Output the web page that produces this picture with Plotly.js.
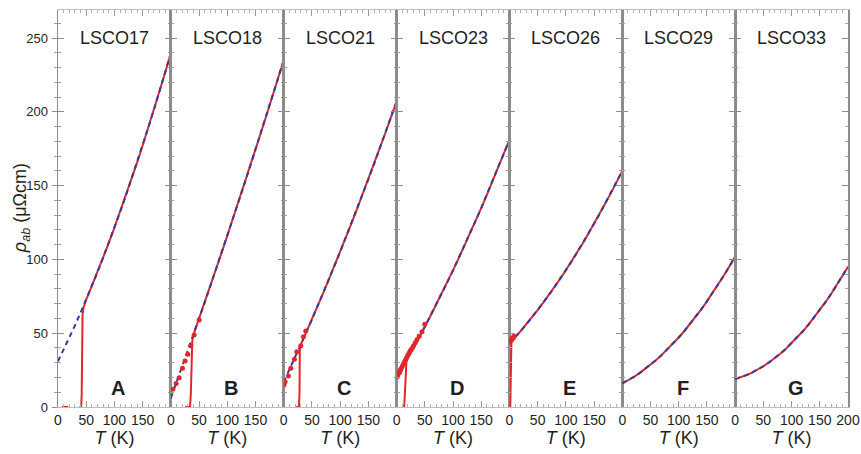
<!DOCTYPE html>
<html><head><meta charset="utf-8">
<script src="https://cdn.plot.ly/plotly-3.0.1.min.js"></script>
<style>html,body{margin:0;padding:0;background:#fff}</style>
</head><body><div id="chart" style="width:861px;height:454px"></div>
<script>
// Temperature grid (K)
const T = [0,10,20,30,40,50,60,70,80,90,100,110,120,130,140,150,160,170,180,190,200];
// Fits (blue dashed), µΩcm
const fitA = [31,38.8,46.9,55.2,63.9,72.8,82.0,91.4,101.2,111.2,121.5,132.1,142.9,154.1,165.4,177.2,189.2,201.4,213.9,226.7,239.8];
const fitB = [6,16.6,27.3,38.0,48.9,59.8,70.9,82.0,93.2,104.6,116.0,127.5,139.1,150.7,162.5,174.4,186.3,198.4,210.5,222.7,235.0];
const fitC = [17,25.2,33.5,42.0,50.6,59.3,68.2,77.2,86.4,95.7,105.1,114.7,124.4,134.2,144.2,154.3,164.6,175.0,185.5,196.2,207.0];
const fitD = [20,26.6,33.3,40.1,47.2,54.3,61.7,69.2,76.8,84.6,92.6,100.7,109.0,117.5,126.1,134.8,143.8,152.8,162.1,171.5,181.0];
const fitE = [43,47.2,51.5,56.0,60.8,65.6,70.7,75.9,81.3,86.9,92.7,98.6,104.7,111.0,117.5,124.1,131.0,138.0,145.1,152.5,160.0];
const fitF = [16,18.0,20.3,22.8,25.6,28.6,31.8,35.3,39.0,42.9,47.1,51.5,56.2,61.1,66.2,71.6,77.2,83.0,89.1,95.4,102.0];
const fitG = [19,20.2,21.6,23.3,25.3,27.6,30.2,33.0,36.1,39.5,43.2,47.1,51.3,55.8,60.6,65.6,71.0,76.6,82.5,88.6,95.0];

// Low-temperature parts of the measured (red) curves, below 50 K
const lowA_T = [7,18,null,38,41,42,42.5,43.5,45];
const lowA_R = [0,0,null,0,0,8,45,62,67];
const lowB_T = [25,34,35.5,36.5,38,40];
const lowB_R = [0,0,10,38,45,48.9];
const lowC_T = [22,27,28,28.5,30,40];
const lowC_R = [0,0,10,38,42,50.6];
const lowD_T = [12,13.5,15.5,17.5,20,30,40];
const lowD_R = [0,0,15,31,33.3,40.1,47.2];
const lowE_T = [1.5,2,2.5,3.5,5,10,20,30,40];
const lowE_R = [0,15,35,44,45.5,47.2,51.5,56.0,60.8];

// High-field points (red dots)
const dotsB_T = [3.5,9.4,14.7,20.6,25.3,30.1,35.4,41.3,50.1];
const dotsB_R = [12,16,19.9,26.2,31.2,35.7,41.5,48.8,59];
const dotsC_T = [0.5,2.5,8.3,12.6,18.9,23.2,30.3,34.9,39.1];
const dotsC_R = [15,17.1,21,26.2,32.3,37.5,41.5,47.6,51.5];
const dotsD_T = [0.5,1,1.5,2,3,4,5,6,7,8,10,12,14,16,18,20,22,24,26,28,30,33,36,40,45,50];
const dotsD_R = [20.5,21,20.5,22,22.5,23,23.5,24.5,25,26,27.5,29,30.5,32,33.5,35,36.5,38,39,40,41.5,43.5,45.5,48,51,56];
const dotsE_T = [1,2,3,4,5,6,7,8];
const dotsE_R = [44,45,46,45.5,46.5,47,47,48];

const samples = ['LSCO17','LSCO18','LSCO21','LSCO23','LSCO26','LSCO29','LSCO33'];
const letters = ['A','B','C','D','E','F','G'];
const xTicksInner = [0,50,100,150];
const xTicksLast = [0,50,100,150,200];

const fits = [fitA,fitB,fitC,fitD,fitE,fitF,fitG];
const lows = [[lowA_T,lowA_R],[lowB_T,lowB_R],[lowC_T,lowC_R],[lowD_T,lowD_R],[lowE_T,lowE_R],[[],[]],[[],[]]];
const dots = [null,[dotsB_T,dotsB_R],[dotsC_T,dotsC_R],[dotsD_T,dotsD_R],[dotsE_T,dotsE_R],null,null];

const RED = '#e3262b', BLUE = '#2f3f9a';
const FONT = 'Liberation Sans, Arial, sans-serif';
const traces = [];
const layout = {
  width: 861, height: 454,
  margin: {l: 58, r: 13, t: 10, b: 47},
  paper_bgcolor: '#fff', plot_bgcolor: '#fff',
  showlegend: false,
  font: {family: FONT, color: '#231f20'},
  annotations: []
};
const n = 7;
for (let i = 0; i < n; i++) {
  const s = i === 0 ? '' : String(i + 1);
  const xa = 'x' + s, ya = 'y' + s;
  const fit = fits[i];
  let rx, ry;
  if (lows[i][0].length) {
    const start = T.indexOf(50);
    rx = lows[i][0].concat(T.slice(start));
    ry = lows[i][1].concat(fit.slice(start));
  } else { rx = T.slice(); ry = fit.slice(); }
  traces.push({x: rx, y: ry, xaxis: xa, yaxis: ya, mode: 'lines', connectgaps: false,
    line: {color: RED, width: 2}, hoverinfo: 'skip'});
  traces.push({x: T, y: fit, xaxis: xa, yaxis: ya, mode: 'lines',
    line: {color: BLUE, width: 2, dash: '5px,4px'}, hoverinfo: 'skip'});
  if (dots[i]) {
    traces.push({x: dots[i][0], y: dots[i][1], xaxis: xa, yaxis: ya, mode: 'markers',
      marker: {color: RED, size: 5, symbol: 'circle'}, hoverinfo: 'skip'});
  }
  layout['xaxis' + s] = {
    domain: [i / n, (i + 1) / n], range: [0, 200], anchor: ya,
    tickmode: 'array', tickvals: i === n - 1 ? xTicksLast : xTicksInner,
    ticks: 'inside', ticklen: 6, tickwidth: 1, tickcolor: '#9a9a9a',
    minor: {tickmode: 'linear', tick0: 0, dtick: 10, ticks: 'inside', ticklen: 3, tickcolor: '#b0b0b0'},
    mirror: 'ticks', showline: true, linecolor: '#bdbdbd', linewidth: 1,
    showgrid: false, zeroline: false,
    tickfont: {size: 14, family: FONT, color: '#231f20'},
    title: {text: '<i>T</i> (K)', font: {size: 18, family: FONT, color: '#231f20'}, standoff: 4}
  };
  layout['yaxis' + s] = {
    domain: [0, 1], range: [0, 269], anchor: xa,
    tickmode: 'linear', tick0: 0, dtick: 50,
    ticks: 'inside', ticklen: 6, tickwidth: 1, tickcolor: '#8c8c8c',
    minor: {tickmode: 'linear', tick0: 0, dtick: 10, ticks: 'inside', ticklen: 3, tickcolor: '#a0a0a0'},
    mirror: 'ticks', showline: true, linecolor: '#8c8c8c', linewidth: 1.5,
    showgrid: false, zeroline: false,
    showticklabels: i === 0,
    ticklabelstandoff: 6,
    tickfont: {size: 13, family: FONT, color: '#231f20'}
  };
  layout.annotations.push({xref: xa, yref: ya, x: 100, y: 250, text: samples[i], showarrow: false,
    xanchor: 'center', yanchor: 'middle', font: {size: 18, family: FONT, color: '#231f20'}});
  layout.annotations.push({xref: xa, yref: ya, x: 107, y: 13, text: '<b>' + letters[i] + '</b>', showarrow: false,
    xanchor: 'center', yanchor: 'middle', font: {size: 20, family: FONT, color: '#231f20'}});
}
// y-axis title as a rotated annotation placed like the reference
layout.annotations.push({xref: 'paper', yref: 'paper', x: -0.046, y: 0.5, textangle: -90,
  text: '<i>ρ</i><sub><i>ab</i></sub> (μΩcm)', showarrow: false, xanchor: 'center', yanchor: 'middle',
  font: {size: 18, family: FONT, color: '#231f20'}});
// outward ticks on the outer left edge
layout.yaxis8 = {overlaying: 'y', anchor: 'x', side: 'left', range: [0, 269],
  tickmode: 'linear', tick0: 0, dtick: 50, ticks: 'outside', ticklen: 5, tickcolor: '#8c8c8c',
  minor: {tickmode: 'linear', tick0: 0, dtick: 10, ticks: 'outside', ticklen: 3, tickcolor: '#a0a0a0'},
  showticklabels: false, showline: false, showgrid: false, zeroline: false};
traces.push({x: [], y: [], xaxis: 'x', yaxis: 'y8', mode: 'lines', hoverinfo: 'skip'});

Plotly.newPlot('chart', traces, layout, {displayModeBar: false, staticPlot: true});
</script>
</body></html>
